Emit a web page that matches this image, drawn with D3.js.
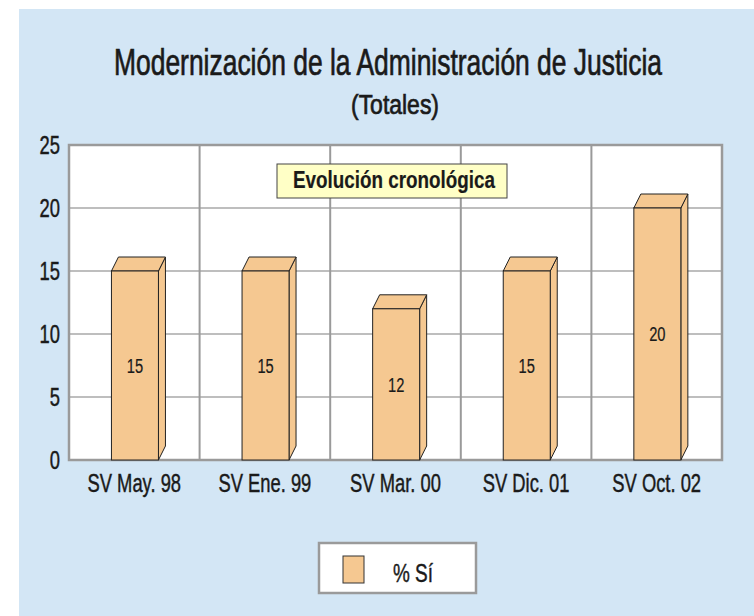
<!DOCTYPE html>
<html>
<head>
<meta charset="utf-8">
<script src="https://cdn.jsdelivr.net/npm/d3@7"></script>
<style>
  body { margin: 0; background: #fff; }
  text { font-family: "Liberation Sans Narrow", "Arial Narrow", "Liberation Sans", Arial, sans-serif; fill: #1a1a1a; stroke: #1a1a1a; stroke-width: 0.45px; }
  .title { stroke-width: 0.7px; }
  .note { stroke-width: 0.2px; }
</style>
</head>
<body>
<div class="chart"></div>
<script>
// data
var categories = ["SV May. 98", "SV Ene. 99", "SV Mar. 00", "SV Dic. 01", "SV Oct. 02"];
var values = [15, 15, 12, 15, 20];
var yTicks = [0, 5, 10, 15, 20, 25];
var seriesName = "% Sí";

var svgWidth = 754;
var svgHeight = 616;

var margin = { top: 145, right: 32, bottom: 156, left: 69 };
var width = svgWidth - margin.left - margin.right;
var height = svgHeight - margin.top - margin.bottom;

var barColor = "#f5c891";
var gridColor = "#a8a8a8";

var svg = d3.select(".chart")
  .append("svg")
  .attr("width", svgWidth)
  .attr("height", svgHeight);

// light blue panel
svg.append("rect")
  .attr("x", 19).attr("y", 9)
  .attr("width", svgWidth - 19).attr("height", svgHeight - 9)
  .attr("fill", "#d3e6f5");

// squeeze text to a target width (the font in the picture is very condensed)
function fit(sel, w) {
  sel.attr("textLength", w).attr("lengthAdjust", "spacingAndGlyphs");
}

var titleText = "Modernización de la Administración de Justicia";

// ratio between picture width and natural width, reused for the other labels
var probe = svg.append("text").style("font-size", "36px").text(titleText);
var squeeze = 548 / probe.node().getComputedTextLength();
probe.remove();

function squeezeAll(sel) {
  sel.each(function() {
    var n = this.getComputedTextLength();
    d3.select(this).attr("textLength", n * squeeze).attr("lengthAdjust", "spacingAndGlyphs");
  });
}

var title = svg.append("text")
  .attr("class", "title")
  .attr("x", 388).attr("y", 75)
  .attr("text-anchor", "middle")
  .style("font-size", "36px")
  .text(titleText);
fit(title, 548);

var subtitle = svg.append("text")
  .attr("class", "title")
  .attr("x", 395).attr("y", 114)
  .attr("text-anchor", "middle")
  .style("font-size", "27px")
  .text("(Totales)");
fit(subtitle, 88);

var chartGroup = svg.append("g")
  .attr("transform", `translate(${margin.left}, ${margin.top})`);

// scales
var xBandScale = d3.scaleBand()
  .domain(categories)
  .range([0, width])
  .padding(0);

var yLinearScale = d3.scaleLinear()
  .domain([0, 25])
  .range([height, 0]);

// white plot area
chartGroup.append("rect")
  .attr("width", width).attr("height", height)
  .attr("fill", "#fff");

// horizontal grid lines
chartGroup.append("g")
  .selectAll("line")
  .data(yTicks.slice(1, -1))
  .enter()
  .append("line")
  .attr("x1", 0).attr("x2", width)
  .attr("y1", d => yLinearScale(d)).attr("y2", d => yLinearScale(d))
  .attr("stroke", gridColor)
  .attr("stroke-width", 1.5);

// vertical separators between categories
chartGroup.append("g")
  .selectAll("line")
  .data(categories.slice(1))
  .enter()
  .append("line")
  .attr("x1", d => xBandScale(d)).attr("x2", d => xBandScale(d))
  .attr("y1", 0).attr("y2", height)
  .attr("stroke", "#9a9a9a")
  .attr("stroke-width", 2);

// plot border
chartGroup.append("rect")
  .attr("width", width).attr("height", height)
  .attr("fill", "none")
  .attr("stroke", "#9a9a9a")
  .attr("stroke-width", 2.5);

// 3d bars
var barW = 47;
var dx = 7;
var dy = 14;

var bars = chartGroup.selectAll(".bar")
  .data(values)
  .enter()
  .append("g")
  .attr("class", "bar");

function x0(d, i) { return xBandScale(categories[i]) + xBandScale.bandwidth() * 0.325; }

// side face
bars.append("path")
  .attr("d", function(d, i) {
    var a = x0(d, i) + barW, t = yLinearScale(d), b = yLinearScale(0);
    return `M${a},${t} L${a + dx},${t - dy} L${a + dx},${b - dy} L${a},${b} Z`;
  })
  .attr("fill", barColor)
  .attr("stroke", "#222")
  .attr("stroke-width", 1)
  .attr("stroke-linejoin", "round");

// top face
bars.append("path")
  .attr("d", function(d, i) {
    var a = x0(d, i), t = yLinearScale(d);
    return `M${a},${t} L${a + dx},${t - dy} L${a + barW + dx},${t - dy} L${a + barW},${t} Z`;
  })
  .attr("fill", barColor)
  .attr("stroke", "#222")
  .attr("stroke-width", 1)
  .attr("stroke-linejoin", "round");

// front face
bars.append("rect")
  .attr("x", (d, i) => x0(d, i))
  .attr("y", d => yLinearScale(d))
  .attr("width", barW)
  .attr("height", d => yLinearScale(0) - yLinearScale(d))
  .attr("fill", barColor)
  .attr("stroke", "#222")
  .attr("stroke-width", 1);

// value labels
var valueLabels = bars.append("text")
  .attr("x", (d, i) => x0(d, i) + barW / 2)
  .attr("y", d => (yLinearScale(d) + yLinearScale(0)) / 2)
  .attr("dy", "0.36em")
  .attr("text-anchor", "middle")
  .style("font-size", "20px")
  .style("stroke-width", "0.2px")
  .text(d => d);
squeezeAll(valueLabels);

// y axis labels
var yLabels = chartGroup.append("g")
  .selectAll("text")
  .data(yTicks)
  .enter()
  .append("text")
  .attr("x", -9)
  .attr("y", d => yLinearScale(d))
  .attr("dy", "0.36em")
  .attr("text-anchor", "end")
  .style("font-size", "25px")
  .text(d => d);
squeezeAll(yLabels);

// x axis labels
var xLabels = chartGroup.append("g")
  .selectAll("text")
  .data(categories)
  .enter()
  .append("text")
  .attr("x", d => xBandScale(d) + xBandScale.bandwidth() / 2)
  .attr("y", height + 32)
  .attr("text-anchor", "middle")
  .style("font-size", "25px")
  .text(d => d);
squeezeAll(xLabels);

// "Evolución cronológica" box
svg.append("rect")
  .attr("x", 277).attr("y", 164)
  .attr("width", 230).attr("height", 34)
  .attr("fill", "#ffffc6")
  .attr("stroke", "#444")
  .attr("stroke-width", 1);

var note = svg.append("text")
  .attr("class", "note")
  .attr("x", 394).attr("y", 188)
  .attr("text-anchor", "middle")
  .style("font-size", "24px")
  .style("font-weight", "bold")
  .text("Evolución cronológica");
fit(note, 202);

// legend
var legend = svg.append("g");
legend.append("rect")
  .attr("x", 319).attr("y", 543)
  .attr("width", 157).attr("height", 50)
  .attr("fill", "#fff")
  .attr("stroke", "#9a9a9a")
  .attr("stroke-width", 2.5);
legend.append("rect")
  .attr("x", 343).attr("y", 556)
  .attr("width", 21).attr("height", 27)
  .attr("fill", barColor)
  .attr("stroke", "#333")
  .attr("stroke-width", 1);
var legendText = legend.append("text")
  .attr("x", 393).attr("y", 582)
  .style("font-size", "26px")
  .text(seriesName);
fit(legendText, 40);
</script>
</body>
</html>
